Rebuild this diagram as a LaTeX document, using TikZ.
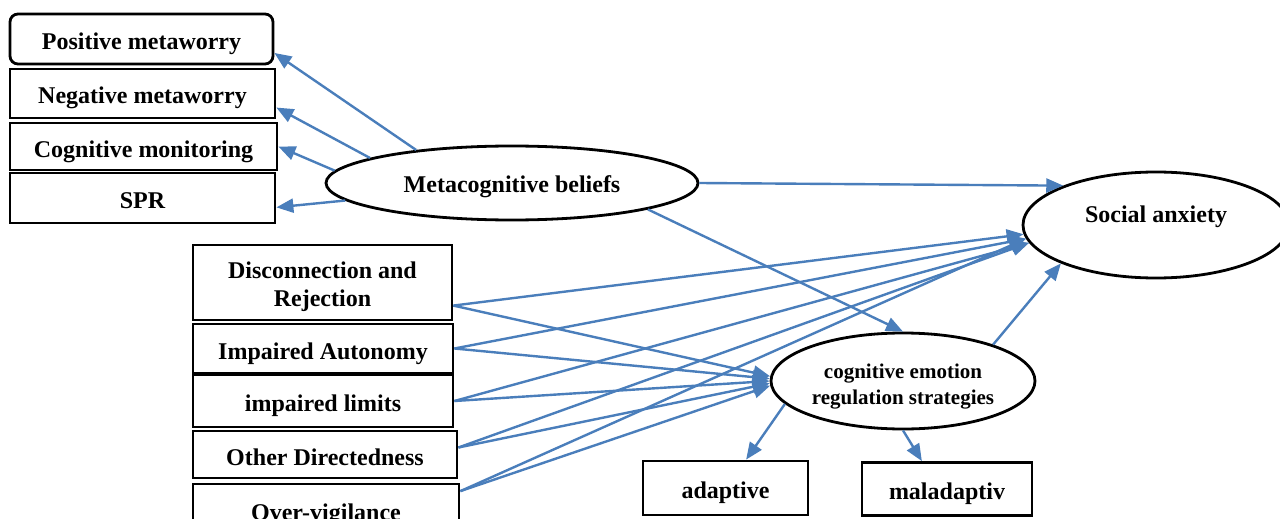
\documentclass[tikz,border=0pt]{standalone}
\usepackage{fontspec}
\setmainfont{Liberation Serif}
\usepackage{tikz}
\usetikzlibrary{shapes}
\usetikzlibrary{arrows.meta}
\usepackage{xcolor}
\definecolor{linkblue}{RGB}{74,126,187}

\begin{document}
\begin{tikzpicture}[x=0.5pt,y=-0.5pt,
  box/.style={draw,line width=1.4pt,inner sep=0pt,align=center,text height=10.5pt,text depth=0pt,
    font=\fontsize{12}{14}\selectfont\bfseries},
  oval/.style={draw,ellipse,line width=1.4pt,inner sep=0pt,align=center,
    font=\fontsize{12}{14}\selectfont\bfseries},
  link/.style={draw=linkblue,line width=1.2pt,-{Triangle[length=8.5pt,width=7pt]}}]
\path[use as bounding box,fill=white] (0,0) rectangle (1280,519);
\clip (0,0) rectangle (1280,519);

\node[box,rounded corners=4pt,minimum width=131.5pt,minimum height=25pt] (pos) at (141.5,39) {Positive metaworry};
\node[box,minimum width=132.5pt,minimum height=24.5pt] (neg) at (142.5,93.5) {Negative metaworry};
\node[box,minimum width=133.5pt,minimum height=23.5pt] (cog) at (143.5,146.5) {Cognitive monitoring};
\node[box,minimum width=132.5pt,minimum height=25pt] (spr) at (142.5,198) {SPR};

\node[oval,minimum width=186pt,minimum height=37pt,text height=9.5pt,text depth=0.5pt] (meta) at (512,183) {Metacognitive beliefs};
\node[oval,minimum width=133pt,minimum height=53pt,text depth=11pt] (sa) at (1156,225) {Social anxiety};
\node[oval,minimum width=132pt,minimum height=48pt,text height=23.5pt,text depth=0pt,
  font=\fontsize{10.5}{13}\selectfont\bfseries] (cers) at (903,381) {cognitive emotion\\regulation strategies};

\node[box,minimum width=129.5pt,minimum height=37.5pt,text height=23.5pt] (disc) at (322.5,282.5) {Disconnection and\\Rejection};
\node[box,minimum width=130pt,minimum height=24.5pt] (ia) at (323,348.5) {Impaired Autonomy};
\node[box,minimum width=130pt,minimum height=26pt] (il) at (323,401) {impaired limits};
\node[box,minimum width=132pt,minimum height=23.5pt] (od) at (325,454.5) {Other Directedness};
\node[box,minimum width=133pt,minimum height=26pt] (ov) at (326,510) {Over-vigilance};

\node[box,minimum width=82.5pt,minimum height=27pt] (ad) at (725.5,488) {adaptive};
\node[box,minimum width=85pt,minimum height=26.5pt] (mal) at (947,489) {maladaptiv};

\draw[link] (meta.161) -- (pos.-6);
\draw[link] (meta.170) -- (neg.-6);
\draw[link] (meta.176) -- (cog.east);
\draw[link] (meta.186) -- (spr.-4);
\draw[link] (meta.east) -- (sa.157);
\draw[link] (meta.-11) -- (cers.north);
\draw[link] (cers.22) -- (sa.202);
\draw[link] (cers.191) -- (ad.54);
\draw[link] (cers.south) -- (mal.132);

\foreach \s/\a/\b/\c in {disc/-10/184/178, ia/0/186/179, il/0/188/180, od/3/188/181, ov/8/186/182}{
  \draw[link] (\s.\a) -- (sa.\b);
  \draw[link] (\s.\a) -- (cers.\c);
}
\end{tikzpicture}
\end{document}
